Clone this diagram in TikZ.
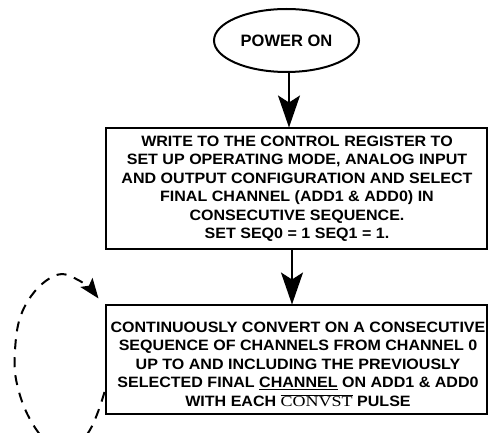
\documentclass[tikz,border=0pt]{standalone}
\usepackage{fontspec}
\setmainfont{Liberation Sans}
\newfontfamily\boxfont[FakeStretch=1.07]{Liberation Sans}
\newfontfamily\serifcv{Liberation Serif}
\usetikzlibrary{arrows.meta,shapes.geometric}
\begin{document}
\begin{tikzpicture}[x=1pt,y=-1pt,line width=2pt,
  boxtext/.style={font=\boxfont\fontsize{15}{18.5}\selectfont\bfseries,align=center,inner sep=0pt},
  stepbox/.style={draw,inner sep=0pt},
  bigarrow/.style={-{Stealth[length=32pt,width=22pt,inset=7pt]}},
  loopline/.style={dash pattern=on 10pt off 8pt,-{Stealth[length=20pt,width=15pt,inset=4pt]}}]
\useasboundingbox (0,0) rectangle (491,433);
\node[draw,ellipse,inner sep=0pt,minimum width=145pt,minimum height=63pt,
      font=\fontsize{16.5}{18}\selectfont\bfseries] (power) at (286.5,40.5) {POWER ON};
\node[stepbox,minimum width=381pt,minimum height=121pt] (setup) at (296,189) {};
\node[boxtext] (setuptext) at (297,188.5) {WRITE TO THE CONTROL REGISTER TO\\
SET UP OPERATING MODE, ANALOG INPUT\\
AND OUTPUT CONFIGURATION AND SELECT\\
FINAL CHANNEL (ADD1 \& ADD0) IN\\
CONSECUTIVE SEQUENCE.\\
SET SEQ0 = 1 SEQ1 = 1.};
\node[stepbox,minimum width=381pt,minimum height=109pt] (convert) at (296,360) {};
\node[boxtext] (converttext) at (298,364) {CONTINUOUSLY CONVERT ON A CONSECUTIVE\\
SEQUENCE OF CHANNELS FROM CHANNEL 0\\
UP TO AND INCLUDING THE PREVIOUSLY\\
SELECTED FINAL \underline{CHANNEL} ON ADD1 \& ADD0\\
WITH EACH $\overline{\hbox{\serifcv\mdseries\scalebox{1.2}[1]{CONVST}}}$ PULSE};
\draw[bigarrow] ([xshift=2.5pt]power.south) -- ([xshift=2.5pt]power.south |- setup.north);
\draw[bigarrow] ([xshift=-4pt]convert.north |- setup.south) -- ([xshift=-4pt]convert.north);
\coordinate (loopstart) at ([yshift=-32pt]convert.west);
\coordinate (loopend) at ([shift={(-6pt,6pt)}]convert.north west);
\draw[loopline] plot[smooth,tension=0.7] coordinates {(loopstart) (88,433) (62,452) (38,432) (19,392) (15,350) (25,306) (54,276) (80,281) (loopend)};
\end{tikzpicture}
\end{document}
